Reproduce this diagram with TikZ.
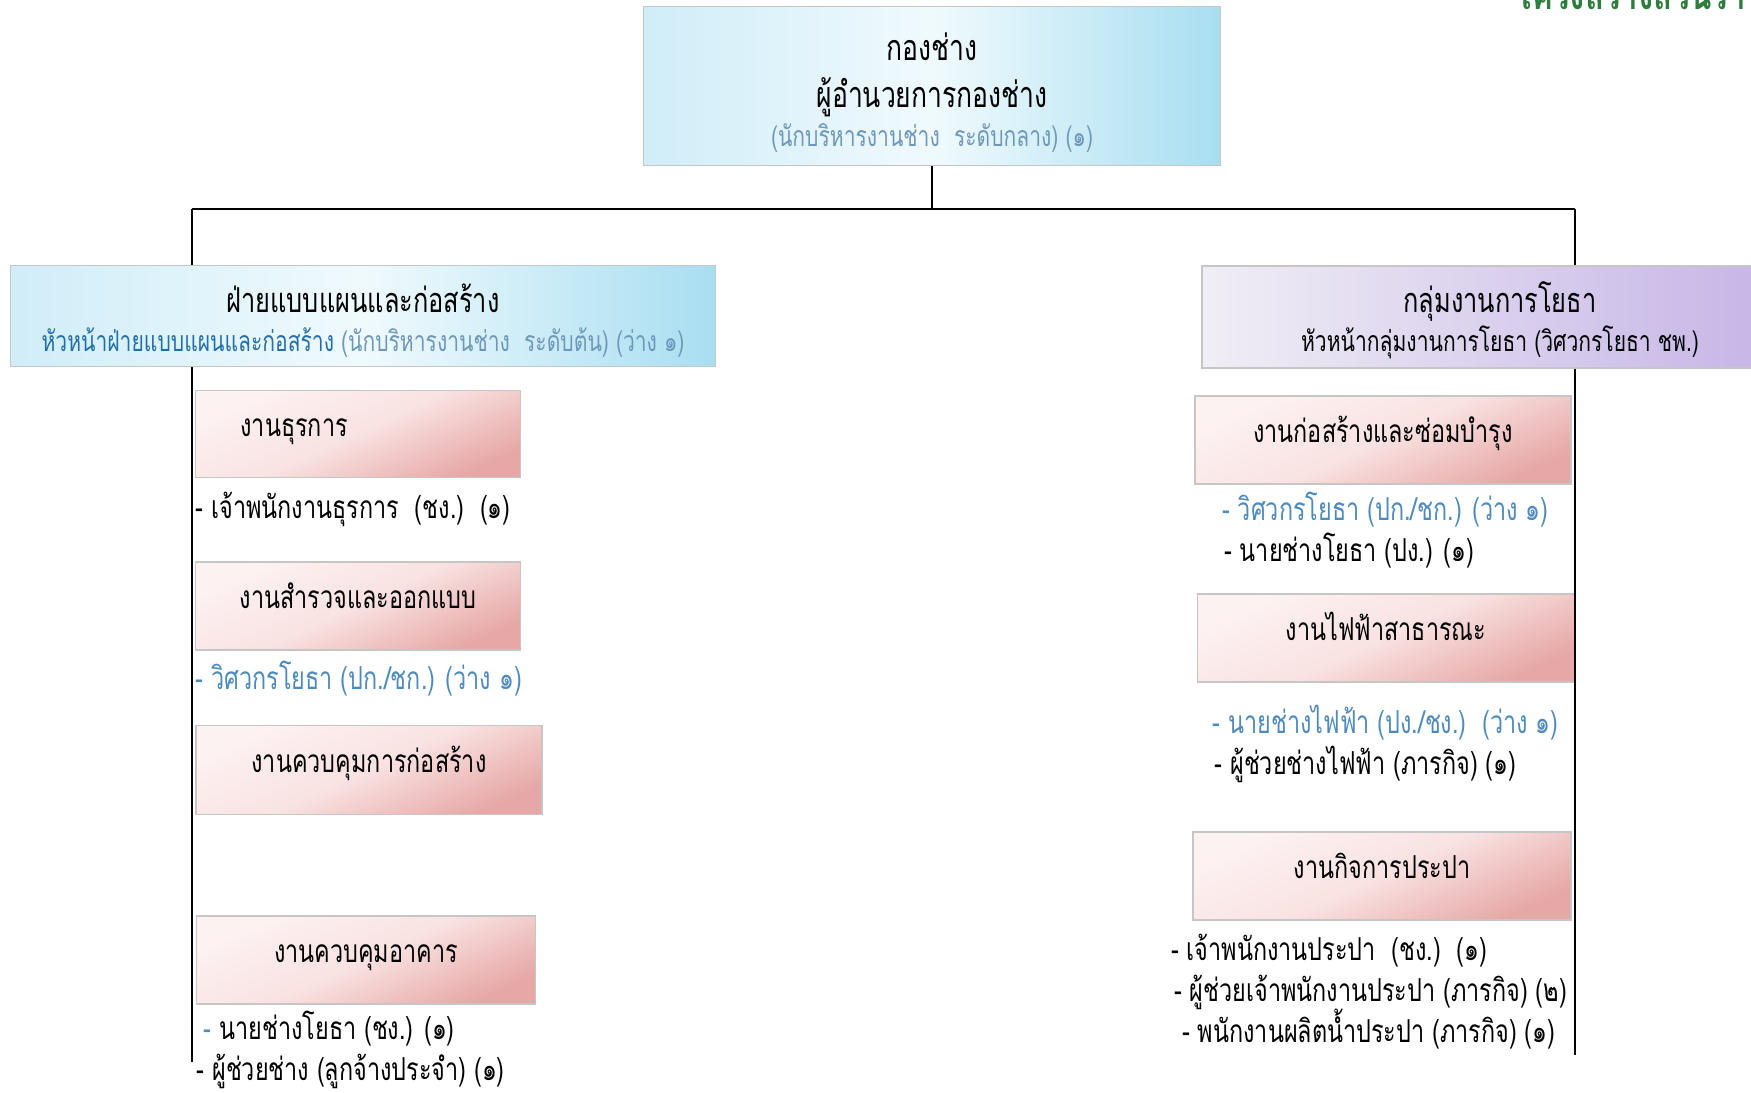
\documentclass[tikz,border=0pt]{standalone}
\usepackage{fontspec}
\newfontfamily\thaifont[Script=Thai, FakeStretch=0.74]{Loma}
\usetikzlibrary{positioning}

\definecolor{greyblue}{RGB}{110,152,185}
\definecolor{headblue}{RGB}{35,112,168}
\definecolor{itemblue}{RGB}{78,138,188}
\definecolor{titlegreen}{RGB}{45,125,60}
\definecolor{bluel}{RGB}{208,237,248}
\definecolor{bluem}{RGB}{240,250,253}
\definecolor{bluer}{RGB}{168,222,241}
\definecolor{pinkl}{RGB}{253,242,242}
\definecolor{pinkm}{RGB}{249,226,226}
\definecolor{pinkd}{RGB}{230,168,166}
\definecolor{purl}{RGB}{240,238,245}
\definecolor{purr}{RGB}{196,178,230}

\tikzset{
  bluebox/.style={draw=gray!45, line width=.3pt, left color=bluel, right color=bluer, middle color=bluem, align=center, inner sep=0pt},
  purplebox/.style={draw=gray!45, line width=.3pt, left color=purl, right color=purr, align=center, inner sep=0pt},
  pinkbox/.style={draw=gray!45, line width=.3pt, top color=pinkl, bottom color=pinkd, middle color=pinkm, shading angle=25, inner sep=0pt, text height=2.4mm, text depth=2mm, font=\thaifont\fontsize{9}{11}\selectfont},
  item/.style={inner sep=0pt, text height=2.6mm, text depth=.9mm, font=\thaifont\fontsize{9}{11}\selectfont},
  conn/.style={draw=black, line width=.25mm}
}

\begin{document}
\begin{tikzpicture}[x=0.1mm, y=-0.1mm, font=\thaifont, node distance=4.1mm]
\useasboundingbox (0,0) rectangle (1751,1092);

% heading, cut at the top edge
\node(t)[anchor=base west, text=titlegreen, font=\thaifont\bfseries\fontsize{12}{14}\selectfont] at (1503,9) {โครงสร้างส่วนราชการ};

% top
\node(a)[bluebox, minimum width=57.7mm, minimum height=15.9mm, font=\thaifont\fontsize{10.2}{13.5}\selectfont] at (932,86)
  {\rule{0pt}{4.1mm}กองช่าง\\
   ผู้อำนวยการกองช่าง\\[-2.4pt]
   {\fontsize{8.1}{9}\selectfont\color{greyblue}(นักบริหารงานช่าง~~ระดับกลาง)~(๑)}};

% second level
\node(b)[bluebox, minimum width=70.5mm, minimum height=10.1mm, font=\thaifont\fontsize{9.75}{11.1}\selectfont] at (363,316)
  {\rule{0pt}{3.7mm}ฝ่ายแบบแผนและก่อสร้าง\\
   {\fontsize{8.1}{9}\selectfont\color{headblue}หัวหน้าฝ่ายแบบแผนและก่อสร้าง \color{greyblue}(นักบริหารงานช่าง~~ระดับต้น)~(ว่าง~๑)}};
\node(c)[purplebox, minimum width=59.6mm, minimum height=10.2mm, font=\thaifont\fontsize{9.75}{11.1}\selectfont] at (1500,317)
  {\rule{0pt}{3.7mm}กลุ่มงานการโยธา\\
   {\fontsize{8.1}{9}\selectfont หัวหน้ากลุ่มงานการโยธา (วิศวกรโยธา ชพ.)}};

% left column
\node(d)[pinkbox, minimum width=32.5mm, minimum height=8.7mm, text width=23.5mm, inner xsep=4.5mm, align=left] at (358,434) {งานธุรการ};
\node(d1)[item, below=3.2mm of d.south west, anchor=west] {- เจ้าพนักงานธุรการ~~(ชง.)~~(๑)};
\node(e)[pinkbox, minimum width=32.5mm, minimum height=8.8mm] at (358,606) {งานสำรวจและออกแบบ};
\node(e1)[item, below=3mm of e.south west, anchor=west, text=itemblue] {- วิศวกรโยธา (ปก./ชก.) (ว่าง ๑)};
\node(f)[pinkbox, minimum width=34.6mm, minimum height=8.9mm] at (369,770) {งานควบคุมการก่อสร้าง};
\node(g)[pinkbox, minimum width=33.9mm, minimum height=8.8mm] at (366,960) {งานควบคุมอาคาร};
\node(g1)[item, below=2.6mm of g.south west, anchor=west, xshift=.7mm] {{\color{itemblue}-} นายช่างโยธา (ชง.) (๑)};
\node(g2)[item, below=of g1.west, anchor=west, xshift=-.7mm] {- ผู้ช่วยช่าง (ลูกจ้างประจำ) (๑)};

% right column
\node(h)[pinkbox, minimum width=37.6mm, minimum height=8.8mm] at (1383,440) {งานก่อสร้างและซ่อมบำรุง};
\node(h1)[item, below=2.7mm of h.south west, anchor=west, xshift=2.7mm, text=itemblue] {- วิศวกรโยธา (ปก./ชก.) (ว่าง ๑)};
\node(h2)[item, below=of h1.west, anchor=west, xshift=.2mm] {- นายช่างโยธา (ปง.) (๑)};
\node(i)[pinkbox, minimum width=37.7mm, minimum height=8.8mm] at (1386,638) {งานไฟฟ้าสาธารณะ};
\node(i1)[item, below=4.2mm of i.south west, anchor=west, xshift=1.5mm, text=itemblue] {- นายช่างไฟฟ้า (ปง./ชง.)~~(ว่าง ๑)};
\node(i2)[item, below=of i1.west, anchor=west, xshift=.2mm] {- ผู้ช่วยช่างไฟฟ้า (ภารกิจ) (๑)};
\node(j)[pinkbox, minimum width=37.8mm, minimum height=8.8mm] at (1382,876) {งานกิจการประปา};
\node(j1)[item, below=3.1mm of j.south west, anchor=west, xshift=-2.2mm] {- เจ้าพนักงานประปา~~(ชง.)~~(๑)};
\node(j2)[item, below=of j1.west, anchor=west, xshift=.3mm] {- ผู้ช่วยเจ้าพนักงานประปา (ภารกิจ) (๒)};
\node(j3)[item, below=of j2.west, anchor=west, xshift=.8mm] {- พนักงานผลิตน้ำประปา (ภารกิจ) (๑)};

% lines
\coordinate(m) at (932,209);
\coordinate(sl) at (192,209);
\coordinate(sr) at (1575,209);
\coordinate(el) at (192,1062);
\coordinate(er) at (1575,1055);
\draw[conn] (a.south)--(m);
\draw[conn] (sl)--(sr);
\draw[conn] (sl)--(sl |- b.north);
\draw[conn] (sl |- b.south)--(el);
\draw[conn] (sr)--(sr |- c.north);
\draw[conn] (sr |- c.south)--(er);
\end{tikzpicture}
\end{document}
